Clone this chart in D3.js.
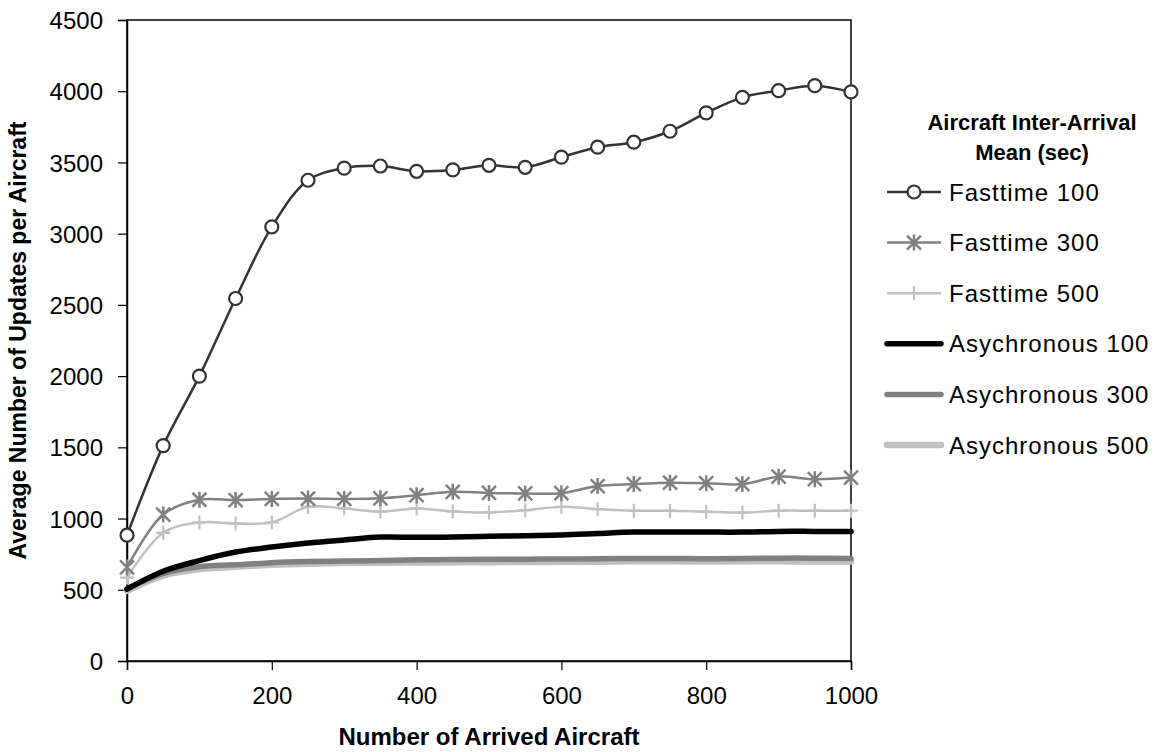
<!DOCTYPE html>
<html>
<head>
<meta charset="utf-8">
<script src="https://cdn.jsdelivr.net/npm/d3@7"></script>
<style>
  body { margin: 0; background: #fff; }
  text { font-family: "Liberation Sans", Arial, sans-serif; }
</style>
</head>
<body>
<div id="chart"></div>
<script>
const width = 1162;
const height = 752;

// x values: number of arrived aircraft
const arrived = [0, 50, 100, 150, 200, 250, 300, 350, 400, 450, 500,
                 550, 600, 650, 700, 750, 800, 850, 900, 950, 1000];

// series values
const fast100 = [883, 1512, 2000, 2545, 3048, 3375, 3460, 3475, 3438, 3448, 3480,
                 3466, 3537, 3607, 3642, 3719, 3848, 3957, 4004, 4039, 3995];
const fast300 = [657, 1028, 1132, 1130, 1138, 1140, 1138, 1142, 1164, 1188, 1180,
                 1176, 1178, 1228, 1242, 1252, 1248, 1242, 1294, 1276, 1288];
const fast500 = [585, 900, 973, 966, 973, 1082, 1071, 1048, 1071, 1050, 1043,
                 1059, 1082, 1066, 1055, 1055, 1048, 1042, 1055, 1055, 1055];
const async100 = [505, 630, 705, 765, 800, 828, 850, 870, 868, 870, 875,
                  880, 885, 895, 905, 905, 905, 905, 910, 910, 910];
const async300 = [505, 615, 662, 675, 690, 698, 702, 705, 710, 712, 715,
                  715, 716, 718, 720, 720, 718, 720, 722, 722, 720];
const async500 = [492, 600, 645, 662, 675, 683, 688, 690, 692, 692, 694,
                  695, 696, 697, 700, 700, 698, 700, 700, 698, 698];

const xTicks = [0, 200, 400, 600, 800, 1000];
const yTicks = [0, 500, 1000, 1500, 2000, 2500, 3000, 3500, 4000, 4500];

const series = [
  { name: "Fasttime 100", values: fast100, color: "#333333", width: 2.5, marker: "circle" },
  { name: "Fasttime 300", values: fast300, color: "#808080", width: 2.5, marker: "star" },
  { name: "Fasttime 500", values: fast500, color: "#c0c0c0", width: 2.5, marker: "plus" },
  { name: "Asychronous 100", values: async100, color: "#000000", width: 5.5, marker: null },
  { name: "Asychronous 300", values: async300, color: "#808080", width: 5.5, marker: null },
  { name: "Asychronous 500", values: async500, color: "#c0c0c0", width: 6.5, marker: null }
];

const margin = { left: 127, right: 311, top: 20, bottom: 91 };
const plotW = width - margin.left - margin.right;
const plotH = height - margin.top - margin.bottom;

const svg = d3.select("#chart")
    .append("svg")
    .attr("width", width)
    .attr("height", height);

const x = d3.scaleLinear().domain([0, 1000]).range([margin.left, margin.left + plotW]);
const y = d3.scaleLinear().domain([0, 4500]).range([margin.top + plotH, margin.top]);

// plot box
svg.append("rect")
    .attr("x", margin.left)
    .attr("y", margin.top)
    .attr("width", plotW)
    .attr("height", plotH)
    .attr("fill", "none")
    .attr("stroke", "#000")
    .attr("stroke-width", 1.5);

// axes
const xAxis = svg.append("g")
    .attr("transform", `translate(0,${margin.top + plotH})`)
    .call(d3.axisBottom(x).tickValues(xTicks).tickSize(9).tickPadding(17).tickFormat(d3.format("d")));
const yAxis = svg.append("g")
    .attr("transform", `translate(${margin.left},0)`)
    .call(d3.axisLeft(y).tickValues(yTicks).tickSize(9).tickPadding(15).tickFormat(d3.format("d")));

[xAxis, yAxis].forEach(g => {
  g.select(".domain").attr("stroke-width", 1.5);
  g.selectAll(".tick line").attr("stroke-width", 1.2);
  g.selectAll(".tick text")
      .style("font-size", "24px")
      .style("font-family", "'Liberation Sans', Arial, sans-serif")
      .attr("fill", "#000");
});
yAxis.selectAll(".tick text").attr("dy", "0.36em");

// axis titles
svg.append("text")
    .attr("x", margin.left + plotW / 2)
    .attr("y", 745)
    .attr("text-anchor", "middle")
    .style("font-size", "24px")
    .style("font-weight", "bold")
    .text("Number of Arrived Aircraft");

svg.append("text")
    .attr("transform", `translate(26,${margin.top + plotH / 2}) rotate(-90)`)
    .attr("text-anchor", "middle")
    .style("font-size", "23px")
    .style("font-weight", "bold")
    .text("Average Number of Updates per Aircraft");

const line = d3.line()
    .x((d, i) => x(arrived[i]))
    .y(d => y(d))
    .curve(d3.curveCatmullRom.alpha(0.5));

// draw order: async first (underneath), then fasttime
const drawOrder = [5, 4, 3, 2, 1, 0];
drawOrder.forEach(k => {
  const s = series[k];
  svg.append("path")
      .datum(s.values)
      .attr("d", line)
      .attr("fill", "none")
      .attr("stroke", s.color)
      .attr("stroke-width", s.width)
      .attr("stroke-linecap", "round")
      .attr("stroke-linejoin", "round");
});

function drawMarker(g, type, cx, cy, color) {
  if (type === "circle") {
    g.append("circle")
        .attr("cx", cx).attr("cy", cy).attr("r", 6.5)
        .attr("fill", "#fff")
        .attr("stroke", color)
        .attr("stroke-width", 2.2);
  } else if (type === "star") {
    const r = 7;
    const p = `M${cx - r},${cy - r}L${cx + r},${cy + r}M${cx - r},${cy + r}L${cx + r},${cy - r}M${cx},${cy - r - 1}L${cx},${cy + r + 1}`;
    g.append("path").attr("d", p).attr("stroke", color).attr("stroke-width", 2.5).attr("fill", "none");
  } else if (type === "plus") {
    const r = 7;
    const p = `M${cx - r},${cy}L${cx + r},${cy}M${cx},${cy - r}L${cx},${cy + r}`;
    g.append("path").attr("d", p).attr("stroke", color).attr("stroke-width", 2.2).attr("fill", "none");
  }
}

[2, 1, 0].forEach(k => {
  const s = series[k];
  const g = svg.append("g");
  s.values.forEach((v, i) => drawMarker(g, s.marker, x(arrived[i]), y(v), s.color));
});

// legend
const legend = svg.append("g");
legend.append("text")
    .attr("x", 1032).attr("y", 130)
    .attr("text-anchor", "middle")
    .style("font-size", "22px")
    .style("font-weight", "bold")
    .text("Aircraft Inter-Arrival");
legend.append("text")
    .attr("x", 1032).attr("y", 160)
    .attr("text-anchor", "middle")
    .style("font-size", "22px")
    .style("font-weight", "bold")
    .text("Mean (sec)");

series.forEach((s, i) => {
  const ly = 192 + i * 50.6;
  legend.append("line")
      .attr("x1", 887).attr("x2", 941)
      .attr("y1", ly).attr("y2", ly)
      .attr("stroke", s.color)
      .attr("stroke-width", s.marker ? 2.5 : s.width)
      .attr("stroke-linecap", s.marker ? "butt" : "round");
  if (s.marker) drawMarker(legend, s.marker, 914, ly, s.color);
  legend.append("text")
      .attr("x", 949).attr("y", ly)
      .attr("dy", "0.36em")
      .style("font-size", "24px")
      .style("letter-spacing", "1px")
      .text(s.name);
});
</script>
</body>
</html>
